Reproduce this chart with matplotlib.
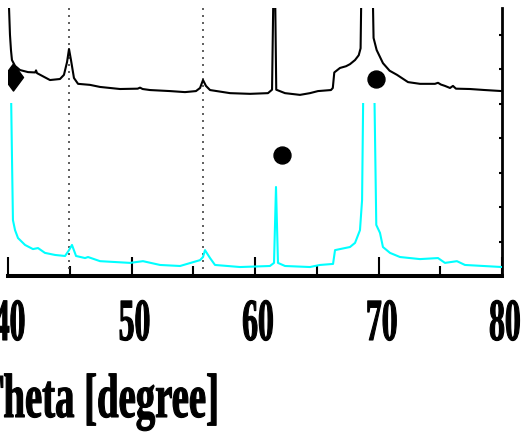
import numpy as np
import matplotlib
matplotlib.use('Agg')
import matplotlib.pyplot as plt
from matplotlib.patheffects import AbstractPathEffect
from matplotlib.transforms import Affine2D, offset_copy

# upper pattern (black), 2theta in degrees / intensity in arbitrary units
black_2t = [40.0, 40.08, 40.16, 40.24, 40.32, 40.57, 40.97, 41.62, 42.2, 42.27, 42.35,
            43.4, 44.21, 44.53, 44.78, 44.94, 45.1, 45.34, 45.67, 46.64, 47.45, 49.07,
            50.5, 50.69, 50.9, 51.5, 53.12, 54.33, 55.22, 55.55, 55.79, 56.03, 56.36,
            57.98, 59.6, 61.05, 61.38, 61.5, 61.56, 61.62, 61.72, 62.43, 63.64, 64.45,
            65.1, 66.15, 66.3, 66.42, 66.88, 67.37, 67.69, 68.1, 68.4, 68.55, 68.62,
            69.1, 69.52, 69.6, 69.85, 70.36, 70.9, 71.5, 72.39, 73.36, 74.57, 74.82,
            75.05, 75.38, 75.79, 76.03, 76.27, 77.4, 78.62, 80.0]
black_int = [9.0, 7.8, 6.99, 6.55, 6.26, 6.09, 5.97, 5.91, 5.90, 5.96, 5.88,
             5.68, 5.71, 5.83, 6.20, 6.58, 6.26, 5.74, 5.57, 5.54, 5.48, 5.42,
             5.43, 5.46, 5.42, 5.39, 5.36, 5.33, 5.36, 5.45, 5.68, 5.51, 5.39,
             5.30, 5.28, 5.30, 5.40, 8.5, 12.0, 8.5, 5.40, 5.30, 5.25, 5.30,
             5.36, 5.39, 5.45, 5.90, 6.03, 6.08, 6.14, 6.26, 6.40, 6.60, 8.5,
             14.0, 8.5, 6.9, 6.55, 6.17, 5.95, 5.83, 5.62, 5.57, 5.57, 5.60,
             5.55, 5.51, 5.45, 5.51, 5.43, 5.42, 5.39, 5.36]

# lower pattern (cyan)
cyan_2t = [40.15, 40.24, 40.32, 40.4, 40.57, 40.81, 41.38, 42.02, 42.43, 42.99, 43.81,
           44.62, 44.94, 45.18, 45.51, 46.24, 46.48, 47.45, 49.88, 50.93, 52.31, 53.93,
           55.55, 55.79, 55.95, 56.36, 56.76, 58.79, 61.21, 61.54, 61.7, 61.86, 62.43,
           64.45, 65.26, 66.32, 66.48, 66.88, 67.69, 68.1, 68.5, 68.67, 68.77, 69.2,
           69.66, 69.82, 70.12, 70.36, 70.93, 71.74, 73.36, 74.82, 75.38, 76.35, 77.0, 80.0]
cyan_int = [6.0, 5.5, 3.5, 1.62, 1.33, 1.10, 0.90, 0.78, 0.81, 0.67, 0.61,
            0.58, 0.75, 0.90, 0.58, 0.52, 0.55, 0.43, 0.38, 0.43, 0.32, 0.29,
            0.46, 0.55, 0.75, 0.52, 0.32, 0.26, 0.29, 0.38, 2.58, 0.38, 0.29,
            0.26, 0.32, 0.35, 0.75, 0.78, 0.84, 0.96, 1.33, 2.2, 5.5, 12.0,
            5.5, 1.48, 1.25, 0.84, 0.67, 0.55, 0.49, 0.52, 0.38, 0.43, 0.32, 0.26]

# phase markers
diamond_2t, diamond_int = [40.4], [5.78]
circle_2t = [69.76, 62.2]
circle_int = [5.72, 3.51]

ref_lines = [44.94, 55.77]
xticks_major = [40, 50, 60, 70, 80]
xtick_labels = ['40', '50', '60', '70', '80']
xticks_minor = [45, 55, 65, 75]
yticks_right = [1, 2, 3, 4, 5, 6, 7]


class Squeeze(AbstractPathEffect):
    # squeeze glyphs horizontally + thicken them (heavy condensed look)
    def __init__(self, sx=0.65, anchor='center', lw=0.8):
        super().__init__()
        self.sx = sx
        self.anchor = anchor
        self.lw = lw

    def draw_path(self, renderer, gc, tpath, affine, rgbFace=None):
        x0, _, x1, _ = tpath.get_extents().extents
        cx = {'left': x0, 'right': x1}.get(self.anchor, (x0 + x1) / 2)
        t = Affine2D().translate(-cx, 0).scale(self.sx, 1).translate(cx, 0) + affine
        gc2 = renderer.new_gc()
        gc2.copy_properties(gc)
        gc2.set_linewidth(self.lw)
        gc2.set_foreground(rgbFace)
        renderer.draw_path(gc2, tpath, t, rgbFace)
        gc2.restore()


W, H = 531, 434
fig = plt.figure(figsize=(W / 100, H / 100), dpi=100)
left, right = 8 / W, 502 / W
bottom, top = 1 - 276 / H, 1 - 8 / H
cyan_top = 1 - 103 / H

ax = fig.add_axes([left, bottom, right - left, top - bottom])
ax.set_xlim(40, 80)
ax.set_ylim(0, (276 - 8) / 34.5)

for xv in ref_lines:
    ax.axvline(xv, color='#444444', linestyle=(0, (1.2, 3.0)), linewidth=1.2)

ax.plot(black_2t, black_int, color='black', linewidth=1.5)
tall_diamond = [(0, 1), (0.74, 0), (0, -1), (-0.74, 0), (0, 1)]
ax.plot(diamond_2t, diamond_int, marker=tall_diamond, markersize=19.5,
        color='black', linestyle='none')
ax.plot(circle_2t, circle_int, marker='o', markersize=12.2, color='black',
        linestyle='none')

for s in ['left', 'top']:
    ax.spines[s].set_visible(False)
ax.spines['bottom'].set_linewidth(2.9)
ax.spines['right'].set_linewidth(2.0)

ax.set_xticks(xticks_major)
ax.set_xticklabels([])
ax.set_xticks(xticks_minor, minor=True)
ax.tick_params(axis='x', which='major', direction='in', length=13.5, width=1.5)
ax.tick_params(axis='x', which='minor', direction='in', length=7, width=1.5)
ax.yaxis.tick_right()
ax.set_yticks(yticks_right)
ax.tick_params(axis='y', which='major', direction='in', length=2.5, width=1.5,
               labelright=False)

# tick labels drawn by hand so they can be condensed and nudged like the original
label_dx = [2, 3, 3, 3, 3]
for xv, lab, dx in zip(xticks_major, xtick_labels, label_dx):
    tr = offset_copy(ax.get_xaxis_transform(), fig=fig, x=dx, y=-64, units='dots')
    ax.text(xv, 0, lab, transform=tr, ha='center', va='baseline', fontsize=43,
            fontfamily='Liberation Serif', fontweight='bold', clip_on=False,
            path_effects=[Squeeze(0.53)])

# lower panel holds the cyan pattern (clipped at its own top)
ax2 = fig.add_axes([left, bottom, right - left, cyan_top - bottom])
ax2.patch.set_alpha(0)
ax2.set_xlim(40, 80)
ax2.set_ylim(0, (276 - 103) / 34.5)
ax2.plot(cyan_2t, cyan_int, color='#00ffff', linewidth=1.5)
ax2.axis('off')

fig.text(221 / W, 1 - 417 / H, '2Theta [degree]', ha='right', va='baseline',
         fontsize=45, fontfamily='Liberation Serif', fontweight='bold',
         path_effects=[Squeeze(0.62, 'right')])

fig.savefig('out.png', dpi=100)
